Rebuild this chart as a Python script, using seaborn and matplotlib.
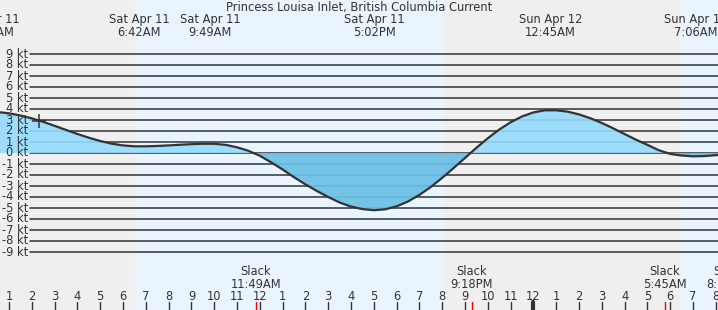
import matplotlib
matplotlib.use("Agg")
import matplotlib.pyplot as plt
import seaborn as sns
import pandas as pd

sns.set_theme(style="white")
plt.rcParams['font.family'] = ['DejaVu Sans']

title = "Princess Louisa Inlet, British Columbia Current"

# hours since Sat Apr 11 00:00
hours = [0.0, 0.5, 1.0, 1.5, 2.0, 2.5, 3.0, 3.5, 4.0, 4.5, 5.0, 5.5, 6.0, 6.5,
         7.0, 7.5, 8.0, 8.5, 9.0, 9.5, 10.0, 10.5, 11.0, 11.5, 12.0, 12.5,
         13.0, 13.5, 14.0, 14.5, 15.0, 15.5, 16.0, 16.5, 17.0, 17.5, 18.0,
         18.5, 19.0, 19.5, 20.0, 20.5, 21.0, 21.5, 22.0, 22.5, 23.0, 23.5,
         24.0, 24.5, 25.0, 25.5, 26.0, 26.5, 27.0, 27.5, 28.0, 28.5, 29.0,
         29.5, 30.0, 30.5, 31.0, 31.5, 32.0, 32.5]
current_kt = [3.75, 3.72, 3.61, 3.41, 3.15, 2.83, 2.47, 2.10, 1.73, 1.39, 1.09,
              0.85, 0.69, 0.61, 0.61, 0.64, 0.69, 0.75, 0.80, 0.84, 0.84, 0.74,
              0.52, 0.20, -0.25, -0.85, -1.50, -2.20, -2.85, -3.45, -4.00,
              -4.50, -4.87, -5.10, -5.20, -5.12, -4.85, -4.41, -3.81, -3.09,
              -2.26, -1.37, -0.45, 0.47, 1.34, 2.13, 2.79, 3.32, 3.69, 3.88,
              3.88, 3.76, 3.51, 3.16, 2.73, 2.24, 1.72, 1.21, 0.74, 0.25,
              -0.08, -0.23, -0.30, -0.28, -0.20, -0.05]

event_hours = [0.12, 6.70, 9.82, 17.03, 24.75, 31.10]
event_labels = ["Sat Apr 11\n12:07AM", "Sat Apr 11\n6:42AM", "Sat Apr 11\n9:49AM",
                "Sat Apr 11\n5:02PM", "Sun Apr 12\n12:45AM", "Sun Apr 12\n7:06AM"]
slack_hours = [11.82, 21.30, 29.75, 32.55]
slack_labels = ["Slack\n11:49AM", "Slack\n9:18PM", "Slack\n5:45AM", "Slack\n8:33AM"]
day_spans = [(6.53, 20.08), (30.47, 40.0)]
ytick_values = [9, 8, 7, 6, 5, 4, 3, 2, 1, 0, -1, -2, -3, -4, -5, -6, -7, -8, -9]
hour_ticks = list(range(1, 33))
hour_labels = [str((h - 1) % 12 + 1) for h in hour_ticks]
now_hour, now_value = 2.32, 2.92

df = pd.DataFrame({"hour": hours, "current": current_kt})

W, H = 718, 310
PX_PER_HR = 22.8
X0 = 1 - 9 / PX_PER_HR
X1 = X0 + W / PX_PER_HR
Y_ZERO_PX, PX_PER_KT = 153, 11
Y_TOP = Y_ZERO_PX / PX_PER_KT
Y_BOT = -(H - Y_ZERO_PX) / PX_PER_KT

def py(p):  # pixel y -> data y
    return (Y_ZERO_PX - p) / PX_PER_KT

def hx(p):  # pixel x -> data x
    return X0 + p / PX_PER_HR

fig = plt.figure(figsize=(W / 100, H / 100), dpi=100)
ax = fig.add_axes([0, 0, 1, 1])
ax.set_xlim(X0, X1)
ax.set_ylim(Y_BOT, Y_TOP)
ax.set_facecolor("#efefef")
ax.axis("off")
fig.patch.set_facecolor("#efefef")

for a, b in day_spans:
    ax.axvspan(a, b, color="#eaf4ff", lw=0, zorder=0)

# grid lines
for v in ytick_values:
    ax.plot([hx(30), X1], [v, v], color="#333333", lw=1.1, zorder=1)
    ax.text(hx(28), v, f"{v} kt", ha="right", va="center", fontsize=8.3,
            color="#333333", zorder=5)

ax.fill_between(df["hour"], df["current"], 0, where=df["current"] >= 0,
                interpolate=True, color="#94dafd", alpha=0.9, lw=0, zorder=2)
ax.fill_between(df["hour"], df["current"], 0, where=df["current"] <= 0,
                interpolate=True, color="#6cbfe7", alpha=0.92, lw=0, zorder=2)
sns.lineplot(data=df, x="hour", y="current", ax=ax, color="#333333", lw=1.6,
             zorder=3, legend=False)
ax.set_xlim(X0, X1)
ax.set_ylim(Y_BOT, Y_TOP)
ax.axis("off")

ax.plot([now_hour], [now_value], marker="+", color="#333333", ms=10, mew=1.1, zorder=4)

ax.text((X0 + X1) / 2, py(8), title, ha="center", va="center", fontsize=8.3,
        color="#333333")
for h, lab in zip(event_hours, event_labels):
    ax.text(h, py(25.5), lab, ha="center", va="center", fontsize=8.3,
            color="#333333", linespacing=1.0)
for h, lab in zip(slack_hours, slack_labels):
    ax.text(h, py(278), lab, ha="center", va="center", fontsize=8.3,
            color="#333333", linespacing=1.0)

for h, lab in zip(hour_ticks, hour_labels):
    ax.text(h, py(297), lab, ha="center", va="center", fontsize=8.3,
            color="#333333")
    lw = 3 if h == 24 else 1
    ax.plot([h, h], [py(302), py(311)], color="#333333", lw=lw, zorder=4)
for h in slack_hours:
    ax.plot([h, h], [py(302), py(311)], color="red", lw=1, zorder=4)

fig.savefig("out.png", dpi=100, facecolor=fig.get_facecolor())
